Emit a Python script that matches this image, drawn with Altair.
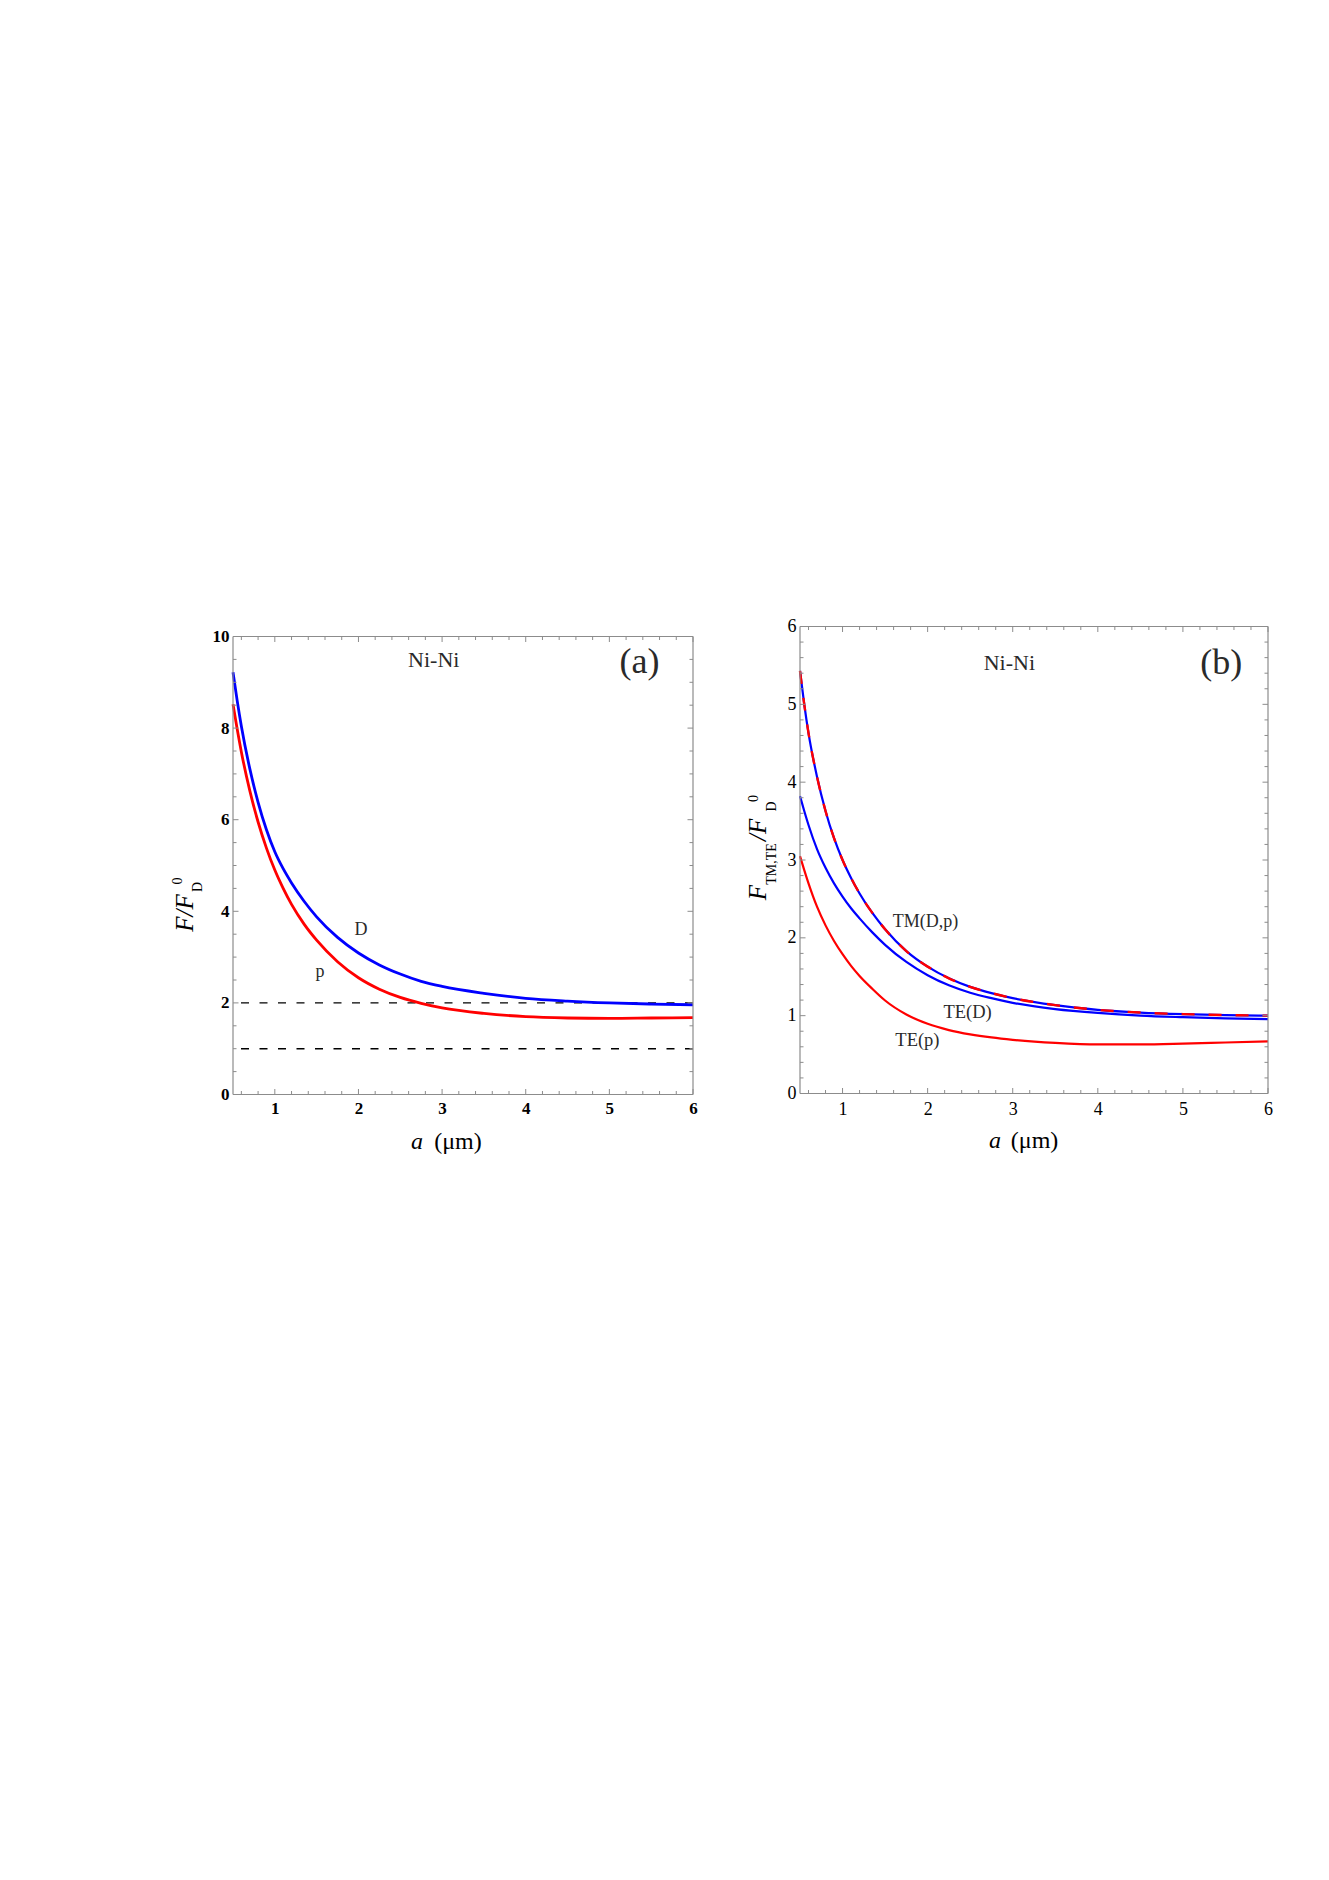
import altair as alt
import pandas as pd

# ---------------- data ----------------
a_vals = [0.5, 0.55, 0.6, 0.7, 0.8, 0.9, 1.0, 1.1, 1.2, 1.35, 1.5, 1.75,
          2.0, 2.25, 2.5, 2.75, 3.0, 3.5, 4.0, 4.5, 5.0, 5.5, 6.0]

# panel (a): total force ratio F/F_D^0
a_D = [9.22, 8.60, 8.04, 7.12, 6.38, 5.78, 5.30, 4.93, 4.62, 4.22, 3.88, 3.43,
       3.09, 2.83, 2.63, 2.47, 2.36, 2.21, 2.10, 2.04, 2.00, 1.975, 1.96]
a_p = [8.52, 7.98, 7.48, 6.64, 5.95, 5.38, 4.90, 4.50, 4.15, 3.72, 3.37, 2.90,
       2.55, 2.30, 2.12, 1.99, 1.89, 1.77, 1.70, 1.67, 1.66, 1.67, 1.68]
dashed_levels = [1, 2]

# panel (b): TM / TE contributions
b_TM = [5.43, 5.00, 4.63, 4.07, 3.63, 3.28, 3.00, 2.77, 2.57, 2.32, 2.11, 1.83,
        1.63, 1.48, 1.37, 1.29, 1.225, 1.135, 1.075, 1.04, 1.02, 1.008, 1.0]
b_TE_D = [3.82, 3.63, 3.45, 3.14, 2.90, 2.70, 2.53, 2.38, 2.25, 2.07, 1.91, 1.69,
          1.52, 1.39, 1.295, 1.225, 1.165, 1.085, 1.035, 1.0, 0.98, 0.965, 0.955]
b_TE_p = [3.05, 2.87, 2.70, 2.40, 2.16, 1.96, 1.79, 1.64, 1.51, 1.345, 1.195, 1.015,
          0.895, 0.815, 0.76, 0.72, 0.69, 0.65, 0.63, 0.63, 0.64, 0.655, 0.67]

# tick values
x_major = [1, 2, 3, 4, 5, 6]
x_minor = [round(0.6 + 0.2 * i, 1) for i in range(27)]
x_minor = [t for t in x_minor if abs(t - round(t)) > 1e-9]
ya_major = [0, 2, 4, 6, 8, 10]
ya_minor = [0.5 * i for i in range(1, 20) if (0.5 * i) % 2 != 0]
yb_major = [0, 1, 2, 3, 4, 5, 6]
yb_minor = [round(0.2 * i, 1) for i in range(1, 30) if i % 5 != 0]

# ---------------- styling ----------------
FONT = "Liberation Serif"
BLUE = "#0000ff"
RED = "#ff0000"
FRAME = "#8c8c8c"
TXT = "#2a2a2a"

WA, HA, TOPA = 460, 458, 10      # panel (a) plot sits 10px lower than (b)
WB, HB, TOPB = 468, 467, 0


def frame(W, top, bottom):
    d = pd.DataFrame({"k": [0]})
    kw = dict(color=FRAME, strokeWidth=1.2)
    return [
        alt.Chart(d).mark_rule(**kw).encode(x=alt.value(0), x2=alt.value(W), y=alt.value(top)),
        alt.Chart(d).mark_rule(**kw).encode(x=alt.value(0), x2=alt.value(W), y=alt.value(bottom)),
        alt.Chart(d).mark_rule(**kw).encode(x=alt.value(0), y=alt.value(top), y2=alt.value(bottom)),
        alt.Chart(d).mark_rule(**kw).encode(x=alt.value(W), y=alt.value(top), y2=alt.value(bottom)),
    ]


def xticks(xs, xax, top, bottom):
    layers = []
    for vals, L in ((x_major, 5.5), (x_minor, 3.5)):
        d = pd.DataFrame({"t": vals})
        layers.append(alt.Chart(d).mark_rule(color=FRAME, strokeWidth=1).encode(
            x=alt.X("t:Q", scale=xs, axis=xax), y=alt.value(bottom), y2=alt.value(bottom - L)))
        layers.append(alt.Chart(d).mark_rule(color=FRAME, strokeWidth=1).encode(
            x=alt.X("t:Q", scale=xs, axis=xax), y=alt.value(top), y2=alt.value(top + L)))
    return layers


def yticks(majors, minors, ys, yax, W):
    layers = []
    for vals, L in ((majors, 5.5), (minors, 3.5)):
        d = pd.DataFrame({"t": vals})
        layers.append(alt.Chart(d).mark_rule(color=FRAME, strokeWidth=1).encode(
            y=alt.Y("t:Q", scale=ys, axis=yax), x=alt.value(0), x2=alt.value(L)))
        layers.append(alt.Chart(d).mark_rule(color=FRAME, strokeWidth=1).encode(
            y=alt.Y("t:Q", scale=ys, axis=yax), x=alt.value(W), x2=alt.value(W - L)))
    return layers


def series(xvals, yvals, color, xs, ys, xax, yax, width, dash=None):
    d = pd.DataFrame({"a": xvals, "v": yvals})
    kw = dict(strokeWidth=width, interpolate="monotone", color=color)
    if dash:
        kw["strokeDash"] = dash
    return alt.Chart(d).mark_line(**kw).encode(
        x=alt.X("a:Q", scale=xs, axis=xax), y=alt.Y("v:Q", scale=ys, axis=yax))


def dtext(txt, a, v, size, xs, ys, xax, yax, style="normal"):
    d = pd.DataFrame({"a": [a], "v": [v], "t": [txt]})
    return alt.Chart(d).mark_text(font=FONT, fontSize=size, fontStyle=style, color=TXT,
                                  align="center", baseline="middle").encode(
        x=alt.X("a:Q", scale=xs, axis=xax), y=alt.Y("v:Q", scale=ys, axis=yax), text="t:N")


def ptext(txt, x, y, size, style="normal", angle=0, align="center", baseline="alphabetic"):
    d = pd.DataFrame({"t": [txt]})
    kw = dict(font=FONT, fontSize=size, fontStyle=style, color="black",
              align=align, baseline=baseline)
    if angle:
        kw["angle"] = angle
    return alt.Chart(d).mark_text(**kw).encode(x=alt.value(x), y=alt.value(y), text="t:N")


def marker(x, y):
    d = pd.DataFrame({"k": [0]})
    return alt.Chart(d).mark_rule(color="white", strokeWidth=1).encode(
        x=alt.value(x), x2=alt.value(x + 1), y=alt.value(y))


# ---------------- panel (a) ----------------
HA_VIEW = TOPA + HA
xsA = alt.Scale(domain=[0.5, 6], nice=False, zero=False)
ysA = alt.Scale(domain=[0, 10], nice=False, zero=False, range=[HA_VIEW, TOPA])
xaxA = alt.Axis(values=x_major, ticks=False, domain=False, grid=False, title=None,
                labelFont=FONT, labelFontSize=17, labelFontWeight="bold", labelColor="black",
                labelPadding=6, labelFlush=False, format="d")
yaxA = alt.Axis(values=ya_major, ticks=False, domain=False, grid=False, title=None,
                labelFont=FONT, labelFontSize=17, labelFontWeight="bold", labelColor="black",
                labelPadding=4, format="d")

dashA = alt.Chart(pd.DataFrame({"lvl": dashed_levels})).mark_rule(
    color="black", strokeWidth=1.4, strokeDash=[8, 10.5]).encode(
    y=alt.Y("lvl:Q", scale=ysA, axis=yaxA))

layersA = [dashA,
           series(a_vals, a_D, BLUE, xsA, ysA, xaxA, yaxA, 2.8),
           series(a_vals, a_p, RED, xsA, ysA, xaxA, yaxA, 2.8)]
layersA += frame(WA, TOPA, HA_VIEW)
layersA += xticks(xsA, xaxA, TOPA, HA_VIEW)
layersA += yticks(ya_major, ya_minor, ysA, yaxA, WA)
layersA += [
    dtext("Ni-Ni", 2.9, 9.48, 22, xsA, ysA, xaxA, yaxA),
    dtext("(a)", 5.36, 9.44, 36, xsA, ysA, xaxA, yaxA),
    dtext("D", 2.03, 3.59, 18, xsA, ysA, xaxA, yaxA),
    dtext("p", 1.54, 2.67, 18, xsA, ysA, xaxA, yaxA),
    # y title F/F_D^0
    ptext("F/F", -40, TOPA + 276.5, 25, style="italic", angle=270),
    ptext("D", -30.7, TOPA + 250.5, 14, angle=270),
    ptext("0", -50.7, TOPA + 244.5, 14, angle=270),
    # x title a (μm)
    ptext("a", 184, 522, 24, style="italic"),
    ptext("(μm)", 225, 522, 24),
    marker(-70, -12),
    marker(WA + 9, -12),
]
chartA = alt.layer(*layersA).properties(width=WA, height=HA_VIEW)

# ---------------- panel (b) ----------------
xsB = alt.Scale(domain=[0.5, 6], nice=False, zero=False)
ysB = alt.Scale(domain=[0, 6], nice=False, zero=False)
xaxB = alt.Axis(values=x_major, ticks=False, domain=False, grid=False, title=None,
                labelFont=FONT, labelFontSize=18, labelColor="black",
                labelPadding=7, labelFlush=False, format="d")
yaxB = alt.Axis(values=yb_major, ticks=False, domain=False, grid=False, title=None,
                labelFont=FONT, labelFontSize=18, labelColor="black",
                labelPadding=4, format="d")

layersB = [
    series(a_vals, b_TE_p, RED, xsB, ysB, xaxB, yaxB, 2.2),
    series(a_vals, b_TE_D, BLUE, xsB, ysB, xaxB, yaxB, 2.2),
    series(a_vals, b_TM, BLUE, xsB, ysB, xaxB, yaxB, 2.2),
    series(a_vals, b_TM, RED, xsB, ysB, xaxB, yaxB, 2.4, dash=[13, 14]),
]
layersB += frame(WB, TOPB, HB)
layersB += xticks(xsB, xaxB, TOPB, HB)
layersB += yticks(yb_major, yb_minor, ysB, yaxB, WB)
layersB += [
    dtext("Ni-Ni", 2.96, 5.53, 22, xsB, ysB, xaxB, yaxB),
    dtext("(b)", 5.45, 5.53, 36, xsB, ysB, xaxB, yaxB),
    dtext("TM(D,p)", 1.975, 2.20, 18, xsB, ysB, xaxB, yaxB),
    dtext("TE(D)", 2.47, 1.05, 18.5, xsB, ysB, xaxB, yaxB),
    dtext("TE(p)", 1.88, 0.69, 18.5, xsB, ysB, xaxB, yaxB),
    # y title F_{TM,TE}/F_D^0
    ptext("F", -34, 266, 25, style="italic", angle=270),
    ptext("TM,TE", -24, 237.4, 14, angle=270),
    ptext("/F", -34, 203.4, 25, style="italic", angle=270),
    ptext("D", -24, 180, 14, angle=270),
    ptext("0", -42, 172, 14, angle=270),
    # x title
    ptext("a", 195, 521, 24, style="italic"),
    ptext("(μm)", 234.6, 521, 24),
    marker(-62, -12),
]
chartB = alt.layer(*layersB).properties(width=WB, height=HB)

chart = alt.hconcat(chartA, chartB, spacing=33).properties(
    padding={"left": 154, "top": 605.5, "right": 10, "bottom": 10}
).configure_view(strokeOpacity=0)

chart.save("out.html", embed_options={"renderer": "svg", "actions": False})
